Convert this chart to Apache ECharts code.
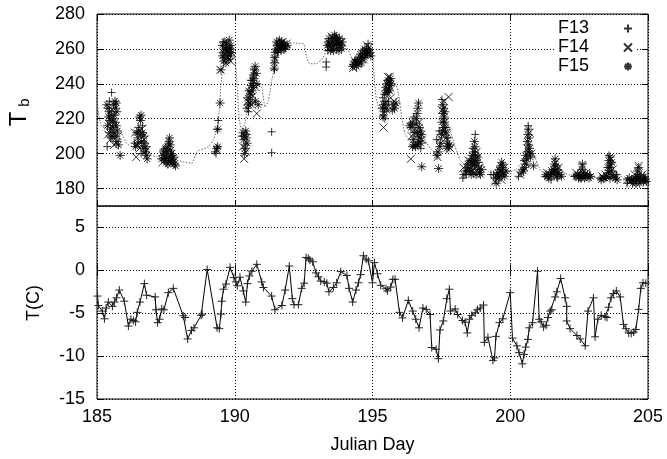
<!DOCTYPE html>
<html>
<head>
<meta charset="utf-8">
<script src="https://cdn.jsdelivr.net/npm/echarts@6/dist/echarts.min.js"></script>
<style>html,body{margin:0;padding:0;background:#fff}#c{width:667px;height:459px}</style>
</head>
<body>
<div id="c"></div>
<script>
// ---- Data ----
const xTicks = [185, 190, 195, 200, 205];
const tbTicks = [180, 200, 220, 240, 260, 280];
const tTicks = [-15, -10, -5, 0, 5];

// Tb model curve (dotted)
const tbModel = [
[185.00,231.5],[185.05,223],[185.17,215.7],[185.35,214.4],[185.65,216.3],[185.90,211.5],[186.08,205.8],[186.32,203.9],[186.56,203.9],[186.80,203],[186.98,199.1],[187.16,198.2],[187.40,197.5],[187.77,196.7],[188.13,195.3],[188.43,194.4],[188.62,201],[188.74,202],[189.04,203.9],[189.22,207.7],[189.34,213.4],[189.44,224.9],[189.50,240],[189.59,251.5],[189.71,259],[189.89,261],[190.01,254.4],[190.09,238],[190.16,221],[190.25,213.4],[190.37,217.3],[190.55,232.5],[190.80,240],[190.98,238],[191.10,226.7],[191.22,230.6],[191.34,242],[191.46,249.6],[191.58,259.1],[191.89,263],[192.13,263.3],[192.49,263],[192.61,255.3],[192.73,251.5],[192.97,251.5],[193.21,255.3],[193.39,261],[193.94,263],[194.31,253.4],[194.49,252.5],[194.79,259.1],[194.97,259.1],[195.03,249.6],[195.09,238.2],[195.15,230.6],[195.28,224.9],[195.46,228.7],[195.64,240],[195.82,240],[195.94,234.4],[196.06,221],[196.18,211.5],[196.37,207.7],[196.55,209.6],[196.73,215.3],[196.91,207.7],[197.09,203],[197.27,201],[197.45,205.8],[197.64,219.1],[197.82,213.4],[198.00,203.9],[198.18,196.3],[198.36,193.4],[198.60,198.2],[198.78,203.9],[198.96,194.4],[199.21,189.6],[199.45,188.7],[199.75,189.6],[200.00,189.6],[200.24,191.5],[200.48,196.3],[200.72,203],[200.85,200.1],[201.03,192.5],[201.21,188.7],[201.45,190.6],[201.69,194.4],[201.93,189.6],[202.17,187.7],[202.54,187.7],[202.78,188.7],[203.02,186.7],[203.26,185.8],[203.50,190.6],[203.69,192.5],[203.87,189.6],[204.11,185.8],[204.35,184.9],[204.59,184.9],[204.96,184.9]
];

const F13 = [
[185.53,235],[185.37,204],[185.45,230],[185.60,220],[185.50,209],
[186.50,215],[186.65,216],[186.60,200],[186.36,206],
[187.60,206],[187.52,200],[187.75,199],[187.40,202],
[189.28,201],[189.32,200],[189.40,219],[189.38,214],
[189.70,261],[189.80,258],[189.58,264],
[190.25,210],[190.38,205],[190.44,211],
[190.58,242],[190.68,240],[190.50,224],
[191.34,212.5],[191.34,200.5],
[191.44,248],[191.55,258],[191.72,262],[191.82,260],
[193.32,252.5],[193.32,249.6],
[193.38,259],[193.60,264],[193.82,261],[193.70,266],
[194.40,254],[194.64,259],[194.76,256],[194.84,263],
[195.37,232],[195.42,230],[195.45,220],[195.39,222],[195.58,230],
[196.38,217],[196.50,221],[196.66,210],[196.75,203],
[197.52,231],[197.33,208],[197.58,220],[197.42,213],[197.74,209],
[198.73,211],[198.28,186],[198.40,188],[198.64,203],[198.86,195],
[199.30,188],[199.39,188],[199.74,194],
[200.65,216],[200.30,187],[200.50,196],[200.44,191],
[201.26,187],[201.48,185],[201.72,186],
[202.32,187],[202.54,186],[202.88,188],
[203.58,199],[203.26,186],[203.86,188],
[204.24,183],[204.58,184],[204.90,186]
];

const F14 = [
[185.40,211],[185.44,217],[185.55,225],[185.70,206],[185.75,210],[185.62,205],[185.48,208],
[186.38,212],[186.42,198],[186.45,205],[186.62,214],[186.72,208],[186.80,202],[186.55,203],
[187.38,195],[187.55,203],[187.70,194],[187.82,196],[187.46,198],
[189.36,202],[189.48,248],
[189.60,260],[189.75,255],[189.85,253],[189.65,257],
[190.34,197],[190.30,204],[190.40,201],
[190.46,230],[190.55,235],[190.65,233],[190.80,223],[190.76,238],[190.70,247],[190.60,228],
[191.46,254],[191.60,261],[191.74,264],[191.88,263],
[193.44,263],[193.56,261],[193.66,262],[193.76,265],[193.86,264],[193.52,267],
[194.30,249],[194.52,252],[194.68,254],[194.80,262],[194.88,261],
[195.62,244],[195.56,244],[195.40,215],[195.46,226],[195.78,230],[195.66,232],
[196.39,197],[196.42,210],[196.54,214],[196.70,218],[196.60,205],[196.80,208],
[197.76,232.5],[197.60,230],[197.52,225],[197.46,209],[197.70,212],[197.82,203],[197.36,198],
[198.30,192],[198.48,196],[198.78,201],[198.90,192],[198.60,190],[198.70,196],
[199.45,184],[199.64,190],[199.78,192],[199.68,185],
[200.70,212],[200.76,200],[200.54,195],[200.36,188],[200.62,203],
[201.65,195],[201.34,189],[201.52,190],[201.76,192],
[202.62,193],[202.40,189],[202.76,189],
[203.66,197],[203.46,188],[203.72,191],[203.34,187],
[204.66,193],[204.36,184],[204.80,188],[204.52,188]
];

const F15 = [
[185.36,228],[185.40,226],[185.45,224],[185.42,221],[185.48,219],[185.38,216],[185.50,214],[185.46,212],[185.55,210],[185.60,228],[185.65,230],[185.70,229],[185.68,226],[185.72,224],[185.63,222],[185.66,218],[185.70,216],[185.58,215],[185.62,212],[185.74,213],[185.68,210],[185.72,207],[185.78,205],[185.84,199],[185.52,222],[185.57,218],
[186.55,221],[186.60,222],[186.58,219],[186.45,212],[186.52,213],[186.58,211],[186.65,212],[186.70,210],[186.62,207],[186.72,206],[186.78,204],[186.75,201],[186.80,199],[186.82,197],[186.50,206],[186.40,204],[186.68,203],[186.48,209],
[187.35,197],[187.40,199],[187.45,196],[187.50,198],[187.55,201],[187.58,204],[187.62,207],[187.66,205],[187.60,198],[187.65,196],[187.70,200],[187.72,197],[187.75,195],[187.80,194],[187.85,193],[187.68,202],[187.52,195],[187.42,201],[187.48,203],[187.78,198],[187.57,194],[187.63,209],
[189.38,204],[189.35,203],[189.38,214],[189.47,229],[189.50,248],
[189.55,262],[189.58,258],[189.62,255],[189.66,260],[189.70,263],[189.74,257],[189.78,254],[189.82,260],[189.86,262],[189.60,253],[189.68,252],[189.76,261],[189.84,256],[189.64,264],[189.72,259],[189.80,265],[189.56,256],[189.88,258],
[190.30,212],[190.35,210],[190.40,213],[190.33,208],[190.42,209],[190.38,203],[190.45,206],[190.36,200],
[190.45,226],[190.50,228],[190.55,231],[190.52,236],[190.58,234],[190.60,239],[190.64,242],[190.68,245],[190.72,248],[190.74,250],[190.70,243],[190.62,236],[190.56,229],[190.66,238],[190.78,246],[190.80,240],[190.48,232],[190.75,230],[190.85,228],
[191.43,249],[191.44,252],[191.45,255],[191.47,258],[191.50,260],[191.55,262],[191.60,263],[191.65,261],[191.70,264],[191.75,262],[191.80,263],[191.85,261],[191.90,262],[191.58,259],[191.68,259],[191.78,260],[191.52,264],[191.62,265],
[193.36,262],[193.40,264],[193.45,261],[193.50,263],[193.55,266],[193.60,262],[193.65,265],[193.70,260],[193.75,263],[193.80,266],[193.85,262],[193.90,264],[193.48,259],[193.58,259],[193.68,267],[193.78,259],[193.88,260],[193.42,266],[193.62,268],[193.72,264],
[194.28,250],[194.33,251],[194.38,252],[194.42,250],[194.46,253],[194.50,254],[194.54,253],[194.58,255],[194.62,256],[194.66,257],[194.70,255],[194.74,258],[194.78,259],[194.82,257],[194.86,260],[194.90,258],[194.94,256],[194.48,251],[194.60,252],[194.72,260],[194.35,253],[194.56,257],
[195.48,238],[195.52,240],[195.56,242],[195.60,241],[195.64,239],[195.58,237],[195.54,235],[195.62,236],[195.66,243],[195.50,236],[195.68,240],[195.44,234],[195.36,226],[195.40,228],[195.44,224],[195.48,229],[195.38,221],[195.76,228],[195.80,226],[195.85,229],[195.72,225],[195.52,226],
[196.67,229],[196.65,226],[196.62,223],[196.60,220],[196.58,217],[196.70,215],[196.74,213],[196.78,211],[196.72,209],[196.68,207],[196.64,205],[196.56,204],[196.50,205],[196.45,204],[196.40,215],[196.36,216],[196.44,218],[196.52,212],[196.76,206],[196.79,192.5],[196.62,212],[196.48,208],
[197.55,228],[197.58,226],[197.56,223],[197.60,221],[197.62,218],[197.58,215],[197.54,213],[197.50,211],[197.64,212],[197.68,209],[197.72,206],[197.76,204],[197.80,205],[197.48,206],[197.44,204],[197.38,201],[197.34,199],[197.40,191.5],[197.62,224],[197.52,218],[197.66,215],[197.70,203],
[198.70,207],[198.72,204],[198.68,201],[198.74,199],[198.66,197],[198.60,195],[198.64,193],[198.70,194],[198.76,196],[198.80,193],[198.84,191],[198.88,189],[198.56,191],[198.50,190],[198.44,192],[198.38,190],[198.32,188],[198.58,188],[198.66,189],[198.76,188],[198.92,188],[198.96,191],[198.82,198],[198.54,196],[198.46,194],[198.62,199],
[199.49,183],[199.47,186],[199.55,189],[199.60,191],[199.66,193],[199.69,195],[199.72,192],[199.76,189],[199.80,187],[199.62,187],[199.70,188],[199.58,186],[199.84,190],[199.52,188],
[200.66,214],[200.64,211],[200.68,209],[200.62,207],[200.66,205],[200.70,203],[200.72,200],[200.74,198],[200.60,197],[200.58,194],[200.52,192],[200.48,190],[200.40,189],[200.84,193],[200.56,199],[200.64,201],
[201.63,197],[201.60,194],[201.66,193],[201.56,191],[201.62,190],[201.70,191],[201.74,189],[201.50,189],[201.44,188],[201.36,187],[201.30,188],[201.40,186],[201.80,188],[201.86,187],[201.68,187],[201.58,188],
[202.62,194],[202.60,191],[202.64,189],[202.56,188],[202.50,187],[202.44,188],[202.38,187],[202.68,188],[202.74,187],[202.80,188],[202.86,186],[202.92,187],[202.58,186],[202.70,186],[202.48,186],
[203.62,198],[203.58,196],[203.64,194],[203.60,192],[203.66,190],[203.56,189],[203.50,187],[203.44,186],[203.38,186],[203.30,185],[203.70,188],[203.76,187],[203.82,186],[203.88,185],[203.54,192],[203.68,195],[203.62,186],
[204.66,192],[204.62,190],[204.68,188],[204.60,187],[204.54,186],[204.48,185],[204.40,185],[204.32,186],[204.26,185],[204.72,186],[204.78,185],[204.84,184],[204.90,185],[204.94,184],[204.56,183],[204.70,183],[204.64,185],[204.44,183],[204.86,187]
];

// Air temperature T(C)
const tempC = [
[185.02,-3.0],[185.05,-4.1],[185.19,-4.75],[185.27,-5.65],[185.33,-4.4],[185.41,-3.7],[185.56,-4.2],[185.63,-3.7],[185.71,-3.2],[185.81,-2.3],[185.99,-3.6],[186.14,-6.5],[186.23,-5.7],[186.32,-5.85],[186.40,-6.0],[186.46,-4.9],[186.56,-3.7],[186.72,-1.55],[186.80,-2.9],[187.11,-3.1],[187.14,-4.6],[187.20,-6.1],[187.27,-5.7],[187.35,-4.5],[187.43,-4.6],[187.59,-2.6],[187.77,-2.1],[188.13,-5.3],[188.20,-5.5],[188.29,-8.0],[188.43,-7.0],[188.52,-6.7],[188.78,-5.25],[188.82,-5.1],[189.00,0.1],[189.36,-6.7],[189.44,-6.8],[189.50,-5.1],[189.53,-3.6],[189.59,-2.2],[189.68,-1.6],[189.83,0.35],[189.97,-0.85],[190.04,-1.35],[190.09,-1.8],[190.19,-0.8],[190.31,-2.4],[190.40,-3.7],[190.46,-1.55],[190.53,-0.65],[190.62,-0.1],[190.80,0.7],[190.98,-1.35],[191.04,-2.0],[191.34,-3.0],[191.46,-4.6],[191.71,-4.1],[191.83,-2.3],[191.98,0.5],[192.09,-3.3],[192.15,-4.0],[192.31,-4.0],[192.43,-2.1],[192.52,-1.5],[192.59,1.5],[192.67,1.4],[192.73,1.2],[192.83,1.0],[192.95,-0.3],[193.04,-0.75],[193.12,-1.25],[193.25,-1.35],[193.34,-1.5],[193.42,-2.5],[193.58,-2.0],[193.70,-1.45],[193.85,-0.15],[194.07,-0.6],[194.15,-2.1],[194.28,-3.7],[194.40,-2.3],[194.49,-1.45],[194.57,-0.5],[194.67,1.7],[194.77,1.3],[194.85,1.1],[195.00,-1.45],[195.07,0.9],[195.18,-0.4],[195.30,-1.75],[195.49,-2.15],[195.54,-2.4],[195.66,-1.95],[195.74,-1.05],[195.82,-1.05],[195.98,-4.9],[196.09,-5.55],[196.30,-3.5],[196.46,-4.75],[196.57,-5.7],[196.69,-6.7],[196.83,-4.4],[196.95,-4.55],[197.09,-5.15],[197.15,-9.0],[197.31,-9.2],[197.39,-10.3],[197.45,-6.95],[197.57,-5.9],[197.70,-3.3],[197.79,-2.2],[197.83,-4.75],[198.00,-4.5],[198.09,-5.15],[198.27,-5.85],[198.36,-6.05],[198.44,-7.3],[198.52,-5.7],[198.60,-5.25],[198.73,-4.95],[198.81,-4.6],[198.91,-4.4],[199.03,-4.05],[199.06,-8.4],[199.19,-7.8],[199.37,-10.5],[199.43,-10.2],[199.48,-7.7],[199.61,-6.1],[199.73,-5.65],[200.00,-2.6],[200.08,-7.9],[200.24,-8.8],[200.32,-9.6],[200.44,-10.9],[200.50,-9.8],[200.56,-8.95],[200.64,-8.05],[200.69,-6.7],[200.81,-6.1],[200.99,-0.1],[201.05,-5.7],[201.12,-6.0],[201.21,-6.6],[201.30,-6.4],[201.37,-5.5],[201.45,-4.75],[201.51,-4.6],[201.63,-3.1],[201.69,-2.5],[201.83,-0.95],[201.99,-3.2],[202.05,-4.2],[202.05,-5.9],[202.17,-6.8],[202.42,-7.6],[202.54,-8.0],[202.72,-8.8],[202.82,-4.75],[203.02,-3.2],[203.08,-7.75],[203.18,-5.7],[203.30,-5.25],[203.44,-5.4],[203.51,-5.5],[203.57,-4.3],[203.66,-3.2],[203.75,-2.7],[203.85,-2.4],[203.99,-3.1],[204.11,-6.3],[204.20,-6.8],[204.30,-7.3],[204.39,-7.35],[204.48,-7.2],[204.56,-6.9],[204.66,-4.55],[204.74,-2.1],[204.82,-1.45],[204.92,-1.5]
];

// ---- Chart ----
const FONT = "'Liberation Sans', Arial, Helvetica, sans-serif";
const PLUS = 'path://M0,5L10,5M5,0L5,10';
const CROSS = 'path://M0,0L10,10M10,0L0,10';
const STAR = 'path://M0,5L10,5M5,0L5,10M1.5,1.5L8.5,8.5M8.5,1.5L1.5,8.5';
const gridLine = {show: true, lineStyle: {color: '#000', width: 1, type: [1, 2]}};
const tick = {show: true, inside: true, length: 6, lineStyle: {color: '#000'}};
const lbl = {fontFamily: FONT, fontSize: 18, color: '#000'};

function xAx(grid, pos, showLabel) {
  return {type: 'value', gridIndex: grid, position: pos, min: xTicks[0], max: xTicks[xTicks.length-1], interval: 5,
    axisLine: {show: false}, axisTick: tick,
    axisLabel: Object.assign({show: showLabel, margin: 9}, lbl),
    splitLine: pos === 'bottom' ? gridLine : {show: false}};
}

const chart = echarts.init(document.getElementById('c'), null, {renderer: 'canvas'});
const markStyle = {color: 'rgba(0,0,0,0)', borderColor: '#000', borderWidth: 1};

chart.setOption({
  animation: false,
  backgroundColor: '#fff',
  grid: [
    {left: 97, right: 19, top: 14, height: 192, show: true, borderColor: '#000', borderWidth: 1, backgroundColor: 'transparent'},
    {left: 97, right: 19, top: 206, height: 193, show: true, borderColor: '#000', borderWidth: 1, backgroundColor: 'transparent'}
  ],
  xAxis: [
    xAx(0, 'bottom', false),
    xAx(0, 'top', false),
    xAx(1, 'bottom', true),
    xAx(1, 'top', false)
  ],
  yAxis: [
    {type: 'value', gridIndex: 0, position: 'left', min: 170, max: 280, minInterval: 20, maxInterval: 20,
      axisLine: {show: false}, axisTick: tick,
      axisLabel: Object.assign({margin: 12, showMinLabel: false,
        formatter: v => (tbTicks.indexOf(v) >= 0 ? String(v) : '')}, lbl),
      splitLine: gridLine},
    {type: 'value', gridIndex: 0, position: 'right', min: 170, max: 280, minInterval: 20, maxInterval: 20,
      axisLine: {show: false}, axisTick: tick, axisLabel: {show: false}, splitLine: {show: false}},
    {type: 'value', gridIndex: 1, position: 'left', min: -15, max: 7.5, interval: 5,
      axisLine: {show: false}, axisTick: tick,
      axisLabel: Object.assign({margin: 12, showMaxLabel: false,
        formatter: v => (tTicks.indexOf(v) >= 0 ? String(v) : '')}, lbl),
      splitLine: gridLine},
    {type: 'value', gridIndex: 1, position: 'right', min: -15, max: 7.5, interval: 5,
      axisLine: {show: false}, axisTick: tick, axisLabel: {show: false}, splitLine: {show: false}}
  ],
  legend: {
    data: ['F13', 'F14', 'F15'],
    orient: 'vertical', align: 'right', right: 32, top: 18,
    itemWidth: 68, itemHeight: 8, itemGap: 0, padding: [1, 2, 1, 2],
    backgroundColor: '#fff',
    textStyle: {fontFamily: FONT, fontSize: 18, color: '#000', lineHeight: 19},
    selectedMode: false
  },
  graphic: [
    {type: 'text', x: 19.5, y: 119, rotation: Math.PI / 2,
      style: {text: 'T', font: '24px ' + FONT, fill: '#000', align: 'center', verticalAlign: 'middle'}},
    {type: 'text', x: 25, y: 102.5, rotation: Math.PI / 2,
      style: {text: 'b', font: '15px ' + FONT, fill: '#000', align: 'center', verticalAlign: 'middle'}},
    {type: 'text', x: 34, y: 303, rotation: Math.PI / 2,
      style: {text: 'T(C)', font: '18px ' + FONT, fill: '#000', align: 'center', verticalAlign: 'middle'}},
    {type: 'text', x: 372.5, y: 445,
      style: {text: 'Julian Day', font: '18px ' + FONT, fill: '#000', align: 'center', verticalAlign: 'middle'}}
  ],
  series: [
    {name: 'model', type: 'line', xAxisIndex: 0, yAxisIndex: 0, data: tbModel, showSymbol: false, smooth: 0.2,
      lineStyle: {color: '#666', width: 1, type: [1.5, 1.5]}, z: 1, silent: true},
    {name: 'F13', type: 'scatter', xAxisIndex: 0, yAxisIndex: 0, data: F13, symbol: PLUS, symbolSize: 8,
      symbolKeepAspect: true, itemStyle: markStyle, z: 3},
    {name: 'F14', type: 'scatter', xAxisIndex: 0, yAxisIndex: 0, data: F14, symbol: CROSS, symbolSize: 8,
      symbolKeepAspect: true, itemStyle: markStyle, z: 3},
    {name: 'F15', type: 'scatter', xAxisIndex: 0, yAxisIndex: 0, data: F15, symbol: STAR, symbolSize: 9,
      symbolKeepAspect: true, itemStyle: markStyle, z: 3},
    {name: 'T', type: 'line', xAxisIndex: 2, yAxisIndex: 2, data: tempC, symbol: PLUS, symbolSize: 8,
      showSymbol: true, showAllSymbol: true, symbolKeepAspect: true,
      lineStyle: {color: '#000', width: 1}, itemStyle: {color: 'rgba(0,0,0,0)', borderColor: '#222', borderWidth: 1}, z: 3}
  ]
});
</script>
</body>
</html>
